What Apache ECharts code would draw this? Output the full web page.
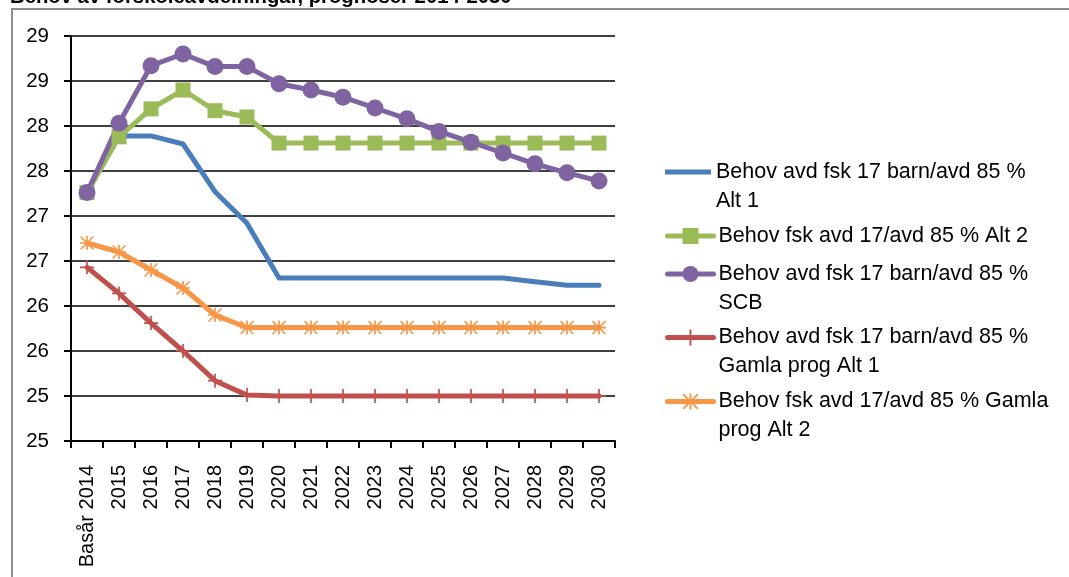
<!DOCTYPE html>
<html>
<head>
<meta charset="utf-8">
<script src="https://cdn.jsdelivr.net/npm/echarts@6/dist/echarts.min.js"></script>
<style>
  html, body { margin: 0; padding: 0; background: #fff; }
  #chart { width: 1069px; height: 577px; }
</style>
</head>
<body>
<div id="chart"></div>
<script>
var years = ['Basår 2014', '2015', '2016', '2017', '2018', '2019', '2020', '2021', '2022',
  '2023', '2024', '2025', '2026', '2027', '2028', '2029', '2030'];
var yTickLabels = ['25', '25', '26', '26', '27', '27', '28', '28', '29', '29'];

var alt1 = [27.26, 27.89, 27.89, 27.80, 27.27, 26.92, 26.31, 26.31, 26.31, 26.31, 26.31, 26.31, 26.31, 26.31, 26.27, 26.23, 26.23];
var alt2 = [27.26, 27.88, 28.19, 28.40, 28.17, 28.10, 27.81, 27.81, 27.81, 27.81, 27.81, 27.81, 27.81, 27.81, 27.81, 27.81, 27.81];
var scb = [27.26, 28.03, 28.67, 28.80, 28.66, 28.66, 28.47, 28.40, 28.32, 28.20, 28.08, 27.94, 27.82, 27.70, 27.58, 27.48, 27.39];
var gamlaAlt1 = [26.43, 26.14, 25.81, 25.50, 25.17, 25.01, 25.0, 25.0, 25.0, 25.0, 25.0, 25.0, 25.0, 25.0, 25.0, 25.0, 25.0];
var gamlaAlt2 = [26.70, 26.60, 26.40, 26.20, 25.90, 25.76, 25.76, 25.76, 25.76, 25.76, 25.76, 25.76, 25.76, 25.76, 25.76, 25.76, 25.76];

var names = [
  'Behov avd fsk 17 barn/avd 85 % Alt 1',
  'Behov fsk avd 17/avd 85 % Alt 2',
  'Behov avd fsk 17 barn/avd 85 % SCB',
  'Behov avd fsk 17 barn/avd 85 % Gamla prog Alt 1',
  'Behov fsk avd 17/avd 85 % Gamla prog Alt 2'
];
var legendTexts = [
  'Behov avd fsk 17 barn/avd 85 %\nAlt 1',
  'Behov fsk avd 17/avd 85 % Alt 2',
  'Behov avd fsk 17 barn/avd 85 %\nSCB',
  'Behov avd fsk 17 barn/avd 85 %\nGamla prog Alt 1',
  'Behov fsk avd 17/avd 85 % Gamla\nprog Alt 2'
];

var FONT = "'Liberation Sans', Arial, sans-serif";
var plusPath = 'path://M4.4,0 L5.6,0 L5.6,4.4 L10,4.4 L10,5.6 L5.6,5.6 L5.6,10 L4.4,10 L4.4,5.6 L0,5.6 L0,4.4 L4.4,4.4 Z';
var starPath = 'path://M4.4,0 L5.6,0 L5.6,10 L4.4,10 Z M0,4.4 L10,4.4 L10,5.6 L0,5.6 Z ' +
  'M0.8,0 L10,9.2 L9.2,10 L0,0.8 Z M9.2,0 L10,0.8 L0.8,10 L0,9.2 Z';

var chart = echarts.init(document.getElementById('chart'));

function mkLegend(i, top, plainLine) {
  var txt = legendTexts[i];
  var twoLines = txt.indexOf('\n') >= 0;
  var lg = {
    data: [names[i]],
    orient: 'vertical',
    left: 665,
    top: top,
    padding: 0,
    itemWidth: 46,
    itemHeight: 20,
    selectedMode: false,
    lineStyle: { width: 5 },
    formatter: function () { return twoLines ? '\n' + txt : txt; },
    textStyle: { fontFamily: FONT, fontSize: 21.5, color: '#000', lineHeight: 29 }
  };
  if (plainLine) {
    lg.icon = 'rect';
    lg.itemHeight = 5;
  }
  return lg;
}

function lineSeries(name, data, color, symbol, size) {
  return {
    name: name,
    type: 'line',
    data: data,
    symbol: symbol,
    symbolSize: size,
    showSymbol: symbol !== 'none',
    lineStyle: { color: color, width: 5, cap: 'round', join: 'round' },
    itemStyle: { color: color },
    emphasis: { disabled: true },
    animation: false
  };
}

var option = {
  backgroundColor: '#fff',
  animation: false,
  graphic: [
    {
      type: 'rect',
      shape: { x: 12, y: 9, width: 1200, height: 700 },
      style: { fill: 'none', stroke: '#8c8c8c', lineWidth: 2 },
      silent: true
    },
    {
      type: 'text',
      x: 10,
      y: -3,
      style: {
        text: 'Behov av förskoleavdelningar, prognoser 2014-2030',
        font: "bold 20.3px 'Liberation Sans', Arial, sans-serif",
        fill: '#000',
        verticalAlign: 'middle'
      },
      silent: true
    }
  ],
  legend: [
    mkLegend(0, 128.5, true),
    mkLegend(1, 221.5),
    mkLegend(2, 230.5),
    mkLegend(3, 294),
    mkLegend(4, 358)
  ],
  grid: { left: 71, right: 454, top: 36, bottom: 136, containLabel: false },
  xAxis: {
    type: 'category',
    data: years,
    boundaryGap: true,
    axisLine: { lineStyle: { color: '#000', width: 2 } },
    axisTick: { show: true, inside: false, length: 7, lineStyle: { color: '#000', width: 2 } },
    axisLabel: { rotate: 90, interval: 0, margin: 24, fontFamily: FONT, fontSize: 20, color: '#000' },
    splitLine: { show: false }
  },
  yAxis: {
    type: 'value',
    min: 24.5,
    max: 29,
    interval: 0.5,
    axisLine: { show: true, lineStyle: { color: '#000', width: 2 } },
    axisTick: { show: true, inside: false, length: 7, lineStyle: { color: '#000', width: 2 } },
    axisLabel: {
      margin: 22, fontFamily: FONT, fontSize: 20.5, color: '#000',
      formatter: function (v, idx) { return yTickLabels[idx]; }
    },
    splitLine: { show: true, lineStyle: { color: '#000', width: 1.5 } }
  },
  series: [
    lineSeries(names[0], alt1, '#4a7ebb', 'none', 0),
    lineSeries(names[1], alt2, '#9bbb59', 'rect', 15),
    lineSeries(names[2], scb, '#8064a2', 'circle', 17),
    lineSeries(names[3], gamlaAlt1, '#c0504d', plusPath, 14),
    lineSeries(names[4], gamlaAlt2, '#f79646', starPath, 14)
  ]
};

chart.setOption(option);
</script>
</body>
</html>
